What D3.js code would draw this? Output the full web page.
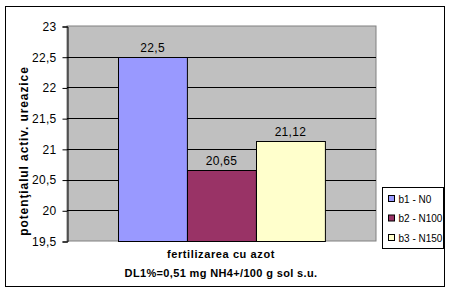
<!DOCTYPE html>
<html>
<head>
<meta charset="utf-8">
<script src="https://cdn.jsdelivr.net/npm/d3@7"></script>
<style>
  body { margin: 0; background: #fff; }
  svg text { font-family: "Liberation Sans", Arial, sans-serif; fill: #000; }
</style>
</head>
<body>
<div id="chart"></div>
<script>
// data
var categories = ['fertilizarea cu azot'];
var seriesNames = ['b1 - N0', 'b2 - N100', 'b3 - N150'];
var seriesValues = [22.5, 20.65, 21.12];
var seriesColors = ['#9999FF', '#993366', '#FFFFCC'];
var yTicks = [19.5, 20, 20.5, 21, 21.5, 22, 22.5, 23];
var xTitleLines = ['fertilizarea cu azot', 'DL1%=0,51 mg NH4+/100 g sol s.u.'];
var yTitle = 'potenţialul activ. ureazice';

var width = 452, height = 294;
var plot = { left: 67, top: 26, right: 376, bottom: 241 };
var fmt = function (v) { return String(v).replace('.', ','); };

var svg = d3.select('#chart').append('svg')
    .attr('width', width)
    .attr('height', height);

// outer chart border
svg.append('rect')
    .attr('x', 5.5).attr('y', 6.5)
    .attr('width', 439).attr('height', 280)
    .attr('fill', '#fff')
    .attr('stroke', '#000');

var y = d3.scaleLinear()
    .domain([yTicks[0], yTicks[yTicks.length - 1]])
    .range([plot.bottom, plot.top]);

var x0 = d3.scaleBand()
    .domain(categories)
    .range([plot.left, plot.right])
    .paddingInner(0)
    .paddingOuter(0.2475);

var x1 = d3.scaleBand()
    .domain(seriesNames)
    .range([0, x0.bandwidth()])
    .padding(0);

// plot area
svg.append('rect')
    .attr('x', plot.left).attr('y', plot.top)
    .attr('width', plot.right - plot.left)
    .attr('height', plot.bottom - plot.top)
    .attr('fill', '#C0C0C0')
    .attr('stroke', '#808080');

// gridlines
svg.append('g')
    .selectAll('line')
    .data(yTicks.slice(1, -1))
    .enter().append('line')
    .attr('x1', plot.left).attr('x2', plot.right)
    .attr('y1', function (d) { return Math.round(y(d)) + 0.5; })
    .attr('y2', function (d) { return Math.round(y(d)) + 0.5; })
    .attr('stroke', '#000');

// y axis
var yAxis = svg.append('g')
    .attr('transform', 'translate(' + (plot.left + 0.5) + ',0.5)')
    .call(d3.axisLeft(y).tickValues(yTicks).tickFormat(fmt).tickSize(5).tickPadding(6));
yAxis.select('.domain').attr('stroke', '#000');
yAxis.selectAll('text').style('font-size', '12px').style('letter-spacing', '0.3px');

// bars
var barData = seriesNames.map(function (name, i) {
    return { cat: categories[0], name: name, value: seriesValues[i], color: seriesColors[i] };
});

var bars = svg.append('g');
bars.selectAll('rect')
    .data(barData)
    .enter().append('rect')
    .attr('x', function (d) { return Math.round(x0(d.cat) + x1(d.name)) + 0.5; })
    .attr('y', function (d) { return Math.round(y(d.value)) + 0.5; })
    .attr('width', x1.bandwidth())
    .attr('height', function (d) { return Math.round(y.range()[0]) - Math.round(y(d.value)); })
    .attr('fill', function (d) { return d.color; })
    .attr('stroke', '#000');

bars.selectAll('text')
    .data(barData)
    .enter().append('text')
    .attr('x', function (d) { return x0(d.cat) + x1(d.name) + x1.bandwidth() / 2; })
    .attr('y', function (d) { return y(d.value) - 5; })
    .attr('text-anchor', 'middle')
    .style('font-size', '12px')
    .style('letter-spacing', '0.3px')
    .text(function (d) { return fmt(d.value); });

// x axis title (two lines)
svg.append('g')
    .selectAll('text')
    .data(xTitleLines)
    .enter().append('text')
    .attr('x', 221)
    .attr('y', function (d, i) { return 258 + i * 19; })
    .attr('text-anchor', 'middle')
    .style('font-size', '11px')
    .style('font-weight', 'bold')
    .style('letter-spacing', function (d, i) { return i === 0 ? '0.6px' : '0.35px'; })
    .text(function (d) { return d; });

// y axis title
svg.append('text')
    .attr('transform', 'translate(28,151) rotate(-90)')
    .attr('text-anchor', 'middle')
    .style('font-size', '12px')
    .style('font-weight', 'bold')
    .style('letter-spacing', '0.9px')
    .text(yTitle);

// legend
var legend = svg.append('g').attr('transform', 'translate(382.5,187.5)');
legend.append('rect')
    .attr('width', 61).attr('height', 61)
    .attr('fill', '#fff')
    .attr('stroke', '#000');

var items = legend.selectAll('g.item')
    .data(barData)
    .enter().append('g')
    .attr('class', 'item')
    .attr('transform', function (d, i) { return 'translate(6,' + (8 + i * 19.5) + ')'; });
items.append('rect')
    .attr('width', 6).attr('height', 6)
    .attr('fill', function (d) { return d.color; })
    .attr('stroke', '#000');
items.append('text')
    .attr('x', 10).attr('y', 7)
    .style('font-size', '10px')
    .text(function (d) { return d.name; });
</script>
</body>
</html>
